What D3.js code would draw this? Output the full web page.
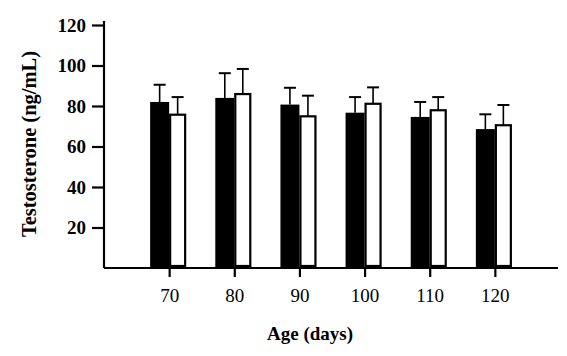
<!DOCTYPE html>
<html><head><meta charset="utf-8">
<script src="https://cdn.jsdelivr.net/npm/d3@7"></script>
<style>body{margin:0;background:#fff}svg{display:block}</style>
</head><body>
<svg id="c" width="567" height="356"></svg>
<script>
const ages = [70, 80, 90, 100, 110, 120];
const blackMeans = [82, 84, 80.7, 76.7, 74.6, 68.6];
const blackSE = [8.5, 12.2, 8.3, 7.7, 7.4, 7.3];
const whiteMeans = [75.7, 85.9, 74.9, 81.1, 77.9, 70.5];
const whiteSE = [8.7, 12.4, 10.2, 8.1, 6.5, 10];
const yTicks = [20, 40, 60, 80, 100, 120];
const xLabel = "Age (days)";
const yLabel = "Testosterone (ng/mL)";

const svg = d3.select("#c");
const x = d3.scaleLinear().domain([60, 130]).range([104, 560]);
const y = d3.scaleLinear().domain([0, 120]).range([268, 25]);
const serif = "'Liberation Serif','Times New Roman',serif";

const bw = 19, ww = 17, cap = 12;

function errs(means, se, cx) {
  svg.append("g").selectAll("g").data(ages.map((a, i) => ({a, m: means[i], s: se[i]})))
    .join("g").each(function(d) {
      const g = d3.select(this);
      const xc = cx(d.a);
      g.append("line").attr("x1", xc).attr("x2", xc).attr("y1", y(d.m)).attr("y2", y(d.m + d.s))
        .attr("stroke", "#000").attr("stroke-width", 1.6);
      g.append("line").attr("x1", xc - cap/2).attr("x2", xc + cap/2).attr("y1", y(d.m + d.s)).attr("y2", y(d.m + d.s))
        .attr("stroke", "#000").attr("stroke-width", 2);
    });
}
errs(blackMeans, blackSE, a => x(a) - bw/2);
errs(whiteMeans, whiteSE, a => x(a) + ww/2);

svg.append("g").selectAll("rect").data(ages.map((a, i) => ({a, v: blackMeans[i]})))
  .join("rect")
  .attr("x", d => x(d.a) - bw).attr("width", bw)
  .attr("y", d => y(d.v)).attr("height", d => y(0) - y(d.v))
  .attr("fill", "#000");

svg.append("g").selectAll("rect").data(ages.map((a, i) => ({a, v: whiteMeans[i]})))
  .join("rect")
  .attr("x", d => x(d.a) + 1).attr("width", ww - 2)
  .attr("y", d => y(d.v)).attr("height", d => y(0) - y(d.v) - 2)
  .attr("fill", "#fff").attr("stroke", "#000").attr("stroke-width", 2.2);

const yAxis = svg.append("g").attr("transform", `translate(${x(60)},0)`)
  .call(d3.axisLeft(y).tickValues(yTicks).tickSize(12).tickPadding(6));
yAxis.select(".domain").attr("d", `M0,${y(0)}V${y(122)}`).attr("stroke-width", 2.2);
yAxis.selectAll(".tick line").attr("stroke-width", 2.2);
yAxis.selectAll(".tick text").attr("font-family", serif).attr("font-size", 19).attr("font-weight", "bold").attr("fill", "#000");

const xAxis = svg.append("g").attr("transform", `translate(0,${y(0)})`)
  .call(d3.axisBottom(x).tickValues(ages).tickSize(9).tickPadding(12));
xAxis.select(".domain").attr("d", `M${x(60)},0H${x(129.7)}`).attr("stroke-width", 2.2);
xAxis.selectAll(".tick line").attr("stroke-width", 2.2);
xAxis.selectAll(".tick text").attr("font-family", serif).attr("font-size", 19).attr("fill", "#000");

svg.append("text").attr("x", 310).attr("y", 340).attr("text-anchor", "middle")
  .attr("font-family", serif).attr("font-weight", "bold").attr("font-size", 19).text(xLabel);
svg.append("text").attr("transform", "translate(36,144) rotate(-90)").attr("text-anchor", "middle")
  .attr("font-family", serif).attr("font-weight", "bold").attr("font-size", 20.5).text(yLabel);
</script>
</body></html>
